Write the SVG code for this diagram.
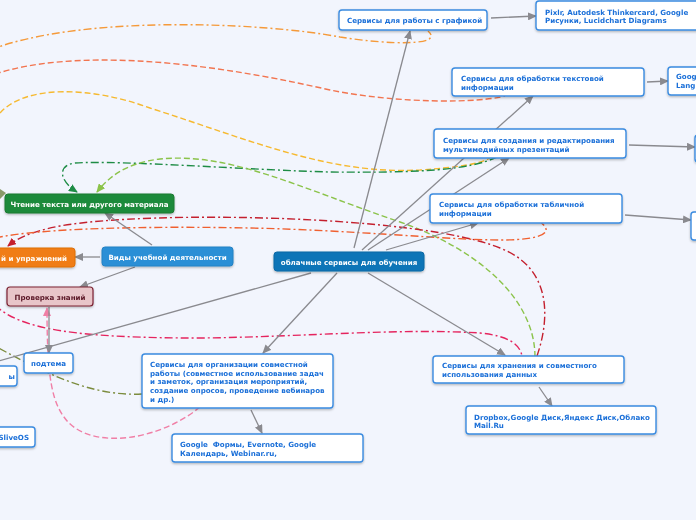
<svg xmlns="http://www.w3.org/2000/svg" width="696" height="520" viewBox="0 0 696 520">
<defs>
<style>
.bg{fill:#f2f5fd}
.n{fill:#ffffff;stroke:#3a8be0;stroke-width:1.4}
.t{font-family:"DejaVu Sans","Liberation Sans",sans-serif;font-weight:bold;font-size:7.1px;fill:#1a6fd8}
.w{font-family:"DejaVu Sans","Liberation Sans",sans-serif;font-weight:bold;font-size:7.1px;fill:#ffffff}
.c{fill:none;stroke:#8a8a8f;stroke-width:1.3}
.r{fill:none;stroke-width:1.4}
</style>
<filter id="sh" x="-10%" y="-20%" width="120%" height="150%">
<feDropShadow dx="0" dy="1.2" stdDeviation="0.8" flood-color="#000" flood-opacity="0.28"/>
</filter>
<marker id="ag" markerWidth="9" markerHeight="8" refX="8" refY="4" orient="auto" markerUnits="userSpaceOnUse"><path d="M0,0 L9,4 L0,8 Z" fill="#8a8a8f"/></marker>
<marker id="adg" markerWidth="9" markerHeight="8" refX="8" refY="4" orient="auto" markerUnits="userSpaceOnUse"><path d="M0,0 L9,4 L0,8 Z" fill="#1e8c45"/></marker>
<marker id="alg" markerWidth="9" markerHeight="8" refX="8" refY="4" orient="auto" markerUnits="userSpaceOnUse"><path d="M0,0 L9,4 L0,8 Z" fill="#8bc34a"/></marker>
<marker id="ar" markerWidth="9" markerHeight="8" refX="8" refY="4" orient="auto" markerUnits="userSpaceOnUse"><path d="M0,0 L9,4 L0,8 Z" fill="#c4202e"/></marker>
<marker id="ap" markerWidth="9" markerHeight="8" refX="8" refY="4" orient="auto" markerUnits="userSpaceOnUse"><path d="M0,0 L9,4 L0,8 Z" fill="#f07fa6"/></marker>
</defs>
<rect class="bg" x="0" y="0" width="696" height="520"/>

<g id="relations">
<path class="r" stroke="#f59a3a" stroke-dasharray="8,3,2,3" d="M-10,50 C80,15 260,22 340,37 C390,45 445,46 428,31"/>
<path class="r" stroke="#f27550" stroke-dasharray="6,3" d="M-5,74 C70,50 190,58 330,90 C400,104 480,103 505,96"/>
<path class="r" stroke="#f6b92f" stroke-dasharray="6,3" d="M0,113 C25,85 90,86 150,108 C250,140 330,175 420,170 C460,167 480,164 490,158"/>
<path class="r" stroke="#1e8c45" stroke-dasharray="8,3,2,3" d="M497,157 C470,170 420,173 330,172 C250,170 120,160 75,163 C58,165 58,180 77,192" marker-end="url(#adg)"/>
<path class="r" stroke="#8bc34a" stroke-dasharray="6,3" d="M535,357 C535,300 480,250 400,222 C300,188 230,152 160,159 C125,163 108,178 97,192" marker-end="url(#alg)"/>
<path class="r" stroke="#c4202e" stroke-dasharray="8,3,2,3" d="M537,356 C550,318 552,268 500,248 C420,215 150,210 60,226 C30,232 18,238 8,246" marker-end="url(#ar)"/>
<path class="r" stroke="#f06030" stroke-dasharray="8,3,2,3" d="M-5,238 C40,228 150,226 250,228 C350,230 450,240 500,240 C550,240 552,230 540,222"/>
<path class="r" stroke="#e5245e" stroke-dasharray="8,3,2,3" d="M-5,305 C20,330 80,338 200,338 C300,337 400,328 480,333 C510,336 520,345 522,356"/>
<path class="r" stroke="#7c8c3e" stroke-dasharray="8,3,2,3" d="M142,394 C100,396 60,382 -5,346"/>
<path class="r" stroke="#f07fa6" stroke-dasharray="6,3" d="M200,407 C160,440 95,450 68,422 C52,404 47,380 47,308" marker-end="url(#ap)"/>
<path d="M0,189 L6,193 L0,199 Z" fill="#8a9a6a"/>
</g>

<g id="connectors">
<line class="c" x1="354" y1="248" x2="410" y2="31" marker-end="url(#ag)"/>
<line class="c" x1="362" y1="250" x2="533" y2="96" marker-end="url(#ag)"/>
<line class="c" x1="368" y1="250" x2="509" y2="158" marker-end="url(#ag)"/>
<line class="c" x1="386" y1="250" x2="478" y2="223" marker-end="url(#ag)"/>
<line class="c" x1="311" y1="273" x2="-5" y2="362"/>
<line class="c" x1="337" y1="273" x2="263" y2="353" marker-end="url(#ag)"/>
<line class="c" x1="368" y1="273" x2="505" y2="355" marker-end="url(#ag)"/>
<line class="c" x1="491" y1="18" x2="536" y2="16" marker-end="url(#ag)"/>
<line class="c" x1="647" y1="82" x2="668" y2="81" marker-end="url(#ag)"/>
<line class="c" x1="629" y1="145" x2="695" y2="147" marker-end="url(#ag)"/>
<line class="c" x1="625" y1="215" x2="691" y2="220" marker-end="url(#ag)"/>
<line class="c" x1="152" y1="245" x2="105" y2="213" marker-end="url(#ag)"/>
<line class="c" x1="100" y1="257" x2="75" y2="257" marker-end="url(#ag)"/>
<line class="c" x1="135" y1="267" x2="80" y2="287" marker-end="url(#ag)"/>
<line class="c" x1="49" y1="307" x2="49" y2="353" marker-end="url(#ag)"/>
<line class="c" x1="251" y1="410" x2="262" y2="433" marker-end="url(#ag)"/>
<line class="c" x1="539" y1="387" x2="552" y2="406" marker-end="url(#ag)"/>
</g>

<g id="n-grafika" filter="url(#sh)"><rect class="n" x="339" y="10" width="148" height="20" rx="3"/><text class="t" x="347" y="23">Сервисы для работы с графикой</text></g>
<g id="n-pixlr" filter="url(#sh)"><rect class="n" x="536" y="1" width="175" height="29" rx="3"/><text class="t" x="545" y="14.5">Pixlr, Autodesk Thinkercard, Google</text><text class="t" x="545" y="23">Рисунки, Lucidchart Diagrams</text></g>
<g id="n-text" filter="url(#sh)"><rect class="n" x="452" y="68" width="192" height="28" rx="3"/><text class="t" x="461" y="80.5">Сервисы для обработки текстовой</text><text class="t" x="461" y="89.5">информации</text></g>
<g id="n-goog" filter="url(#sh)"><rect class="n" x="668" y="67" width="45" height="28" rx="3"/><text class="t" x="676" y="79">Google</text><text class="t" x="676" y="88">Language</text></g>
<g id="n-pres" filter="url(#sh)"><rect class="n" x="434" y="129" width="192" height="29" rx="3"/><text class="t" x="443" y="142.5">Сервисы для создания и редактирования</text><text class="t" x="443" y="151.5">мультимедийных презентаций</text></g>
<g id="n-pres-r" filter="url(#sh)"><rect class="n" x="695" y="135" width="20" height="27" rx="3"/></g>
<g id="n-table" filter="url(#sh)"><rect class="n" x="430" y="194" width="192" height="29" rx="3"/><text class="t" x="439" y="207">Сервисы для обработки табличной</text><text class="t" x="439" y="216">информации</text></g>
<g id="n-table-r" filter="url(#sh)"><rect class="n" x="691" y="212" width="30" height="28" rx="3"/></g>
<g id="n-center" filter="url(#sh)"><rect x="274" y="252" width="150" height="19" rx="3" fill="#0b74b7" stroke="#0a68a5" stroke-width="1"/><text class="w" x="349" y="264.5" text-anchor="middle">облачные сервисы для обучения</text></g>
<g id="n-vidy" filter="url(#sh)"><rect x="102" y="247" width="131" height="19" rx="3" fill="#2b8fd6" stroke="#2582c4" stroke-width="1"/><text class="w" x="167.5" y="259.5" text-anchor="middle">Виды учебной деятельности</text></g>
<g id="n-chtenie" filter="url(#sh)"><rect x="5" y="194" width="169" height="19" rx="3" fill="#1f8a3b" stroke="#1a7a33" stroke-width="1"/><text class="w" x="89.5" y="206.5" text-anchor="middle">Чтение текста или другого материала</text></g>
<g id="n-uprazh" filter="url(#sh)"><rect x="-10" y="248" width="85" height="19" rx="3" fill="#f07d12" stroke="#de700c" stroke-width="1"/><text class="w" x="67" y="260.5" text-anchor="end">й и упражнений</text></g>
<g id="n-proverka" filter="url(#sh)"><rect x="7" y="287" width="86" height="19" rx="3" fill="#e8c5c9" stroke="#7b2232" stroke-width="1.2"/><text class="t" x="50" y="299.5" text-anchor="middle" style="fill:#5a1626">Проверка знаний</text></g>
<g id="n-podtema" filter="url(#sh)"><rect class="n" x="24" y="353" width="49" height="20" rx="3"/><text class="t" x="48.5" y="366" text-anchor="middle">подтема</text></g>
<g id="n-left1" filter="url(#sh)"><rect class="n" x="-10" y="366" width="27" height="20" rx="3"/><text class="t" x="15" y="379" text-anchor="end">ы</text></g>
<g id="n-left2" filter="url(#sh)"><rect class="n" x="-10" y="427" width="45" height="20" rx="3"/><text class="t" x="29" y="440" text-anchor="end">SliveOS</text></g>
<g id="n-sovm" filter="url(#sh)"><rect class="n" x="142" y="354" width="191" height="54" rx="3"/><text class="t" x="150" y="367">Сервисы для организации совместной</text><text class="t" x="150" y="375.7">работы (совместное использование задач</text><text class="t" x="150" y="384.4">и заметок, организация мероприятий,</text><text class="t" x="150" y="393.1">создание опросов, проведение вебинаров</text><text class="t" x="150" y="401.8">и др.)</text></g>
<g id="n-forms" filter="url(#sh)"><rect class="n" x="172" y="434" width="191" height="28" rx="3"/><text class="t" x="180" y="447" xml:space="preserve">Google  Формы, Evernote, Google</text><text class="t" x="180" y="455.5">Календарь, Webinar.ru,</text></g>
<g id="n-hran" filter="url(#sh)"><rect class="n" x="433" y="356" width="191" height="27" rx="3"/><text class="t" x="442" y="368">Сервисы для хранения и совместного</text><text class="t" x="442" y="377">использования данных</text></g>
<g id="n-dropbox" filter="url(#sh)"><rect class="n" x="466" y="406" width="190" height="28" rx="3"/><text class="t" x="474" y="419.5">Dropbox,Google Диск,Яндекс Диск,Облако</text><text class="t" x="474" y="428">Mail.Ru</text></g>
</svg>
